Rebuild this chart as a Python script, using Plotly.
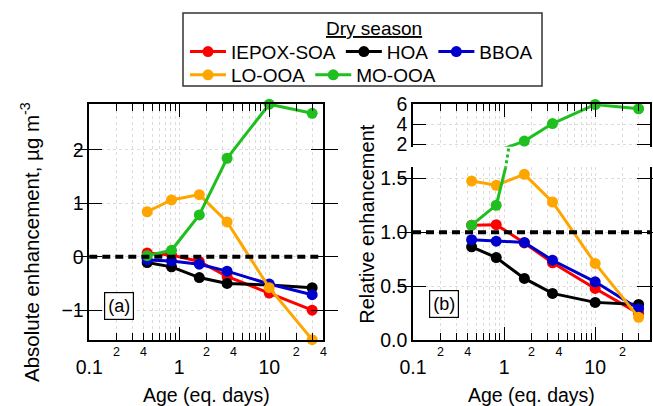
import math
import plotly.graph_objects as go

# ---------------- data ----------------
age_days = [0.44, 0.82, 1.67, 3.4, 10, 30]

series_names = ["IEPOX-SOA", "HOA", "BBOA", "LO-OOA", "MO-OOA"]
series_colors = ["#ff0000", "#000000", "#0000cc", "#ffa500", "#1fbf1f"]

# (a) absolute enhancement, ug m-3
abs_iepox = [0.07, 0.03, -0.09, -0.37, -0.68, -1.0]
abs_hoa = [-0.11, -0.19, -0.39, -0.50, -0.53, -0.58]
abs_bboa = [-0.06, -0.08, -0.14, -0.27, -0.51, -0.71]
abs_loooa = [0.84, 1.06, 1.16, 0.65, -0.58, -1.55]
abs_moooa = [0.02, 0.12, 0.78, 1.84, 2.85, 2.68]

# (b) relative enhancement
rel_iepox = [1.065, 1.07, 0.90, 0.716, 0.478, 0.247]
rel_hoa = [0.864, 0.765, 0.571, 0.432, 0.349, 0.33]
rel_bboa = [0.93, 0.917, 0.905, 0.74, 0.54, 0.29]
rel_loooa = [1.475, 1.435, 1.537, 1.28, 0.71, 0.21]
rel_moooa = [1.065, 1.25, 2.3, 4.07, 6.0, 5.57]

abs_reference = 0
rel_reference = 1.0

minor_label_vals = [0.2, 0.4, 2, 4, 20, 40]
minor_label_text = ["2", "4", "2", "4", "2", "4"]
abs_y_ticks = [-1, 0, 1, 2]
rel_low_ticks = [0.0, 0.5, 1.0, 1.5]
rel_high_ticks = [2, 4, 6]

# ---------------- layout constants ----------------
W, H = 653, 406
FONT = "Liberation Sans, Arial, sans-serif"
X_RANGE = [-1, math.log10(40)]
LEFT_DOM = [89.3 / W, 323.4 / W]
RIGHT_DOM = [413.0 / W, 650.0 / W]
MAIN_Y_DOM = [1 - 340 / H, 1 - 104 / H]
LOW_Y_DOM = [1 - 340 / H, 1 - 167.3 / H]
GAP_Y_DOM = [1 - 167.3 / H, 1 - 146.7 / H]
HIGH_Y_DOM = [1 - 146.7 / H, 1 - 104.3 / H]
ABS_RANGE = [-1.557, 2.854]
LOW_RANGE = [0, 1.602]
HIGH_RANGE = [1.727, 6.02]
GAP_RANGE = [LOW_RANGE[1], HIGH_RANGE[0]]

GRID = "#dcdcdc"

fig = go.Figure()

abs_series = [abs_iepox, abs_hoa, abs_bboa, abs_loooa, abs_moooa]
rel_series = [rel_iepox, rel_hoa, rel_bboa, rel_loooa, rel_moooa]

for i, (name, col, yv) in enumerate(zip(series_names, series_colors, abs_series)):
    fig.add_trace(go.Scatter(
        x=age_days, y=yv, name=name, mode="lines+markers",
        line=dict(color=col, width=3), marker=dict(color=col, size=11),
        xaxis="x", yaxis="y", cliponaxis=False,
        legend="legend" if i < 3 else "legend2",
    ))

for name, col, yv in zip(series_names, series_colors, rel_series):
    fig.add_trace(go.Scatter(
        x=age_days, y=yv, name=name, mode="lines+markers", showlegend=False,
        line=dict(color=col, width=3), marker=dict(color=col, size=11),
        xaxis="x2", yaxis="y2", cliponaxis=True,
    ))

# MO-OOA on the upper (broken) part of the relative axis
fig.add_trace(go.Scatter(
    x=age_days, y=rel_moooa, mode="lines+markers", showlegend=False,
    line=dict(color=series_colors[4], width=3),
    marker=dict(color=series_colors[4], size=11,
                opacity=[1 if v >= HIGH_RANGE[0] else 0 for v in rel_moooa]),
    xaxis="x4", yaxis="y4", cliponaxis=False,
))
# dotted connection across the axis break
fig.add_trace(go.Scatter(
    x=age_days, y=rel_moooa, mode="lines", showlegend=False,
    line=dict(color=series_colors[4], width=3, dash="dot"),
    xaxis="x5", yaxis="y5",
))
# empty traces so the minor-label axes own a subplot
for xa, ya in (("x3", "y"), ("x6", "y2")):
    fig.add_trace(go.Scatter(x=[], y=[], mode="markers", showlegend=False,
                             xaxis=xa, yaxis=ya, hoverinfo="skip"))

tickfont = dict(family=FONT, size=19.5, color="black")


def xaxis_common(dom, anchor, **kw):
    d = dict(
        domain=dom, anchor=anchor, type="log", range=X_RANGE,
        tickmode="linear", tick0=0, dtick=1,
        ticks="inside", ticklen=13, tickwidth=1.3, tickcolor="black",
        showline=True, linecolor="black", linewidth=1.5,
        showgrid=True, gridcolor=GRID, griddash="dot", gridwidth=1,
        zeroline=False, tickfont=tickfont, ticklabelstandoff=9,
        minor=dict(dtick="D1", ticks="inside", ticklen=7, tickwidth=1.3,
                   tickcolor="black", showgrid=True, gridcolor=GRID, griddash="dot"),
    )
    d.update(kw)
    return d


def yaxis_common(dom, anchor, rng, vals, **kw):
    d = dict(
        domain=dom, anchor=anchor, range=rng, tickmode="array", tickvals=vals,
        ticks="inside", ticklen=13, tickwidth=1.3, tickcolor="black",
        showline=True, linecolor="black", linewidth=1.5, mirror="allticks",
        showgrid=True, gridcolor=GRID, griddash="dot", gridwidth=1,
        zeroline=False, tickfont=tickfont,
    )
    d.update(kw)
    return d


def minor_label_axis(dom, over, anchor):
    return dict(
        domain=dom, overlaying=over, anchor=anchor, type="log", range=X_RANGE,
        tickmode="array", tickvals=minor_label_vals, ticktext=minor_label_text, ticks="",
        showgrid=False, showline=False, zeroline=False, side="bottom",
        tickfont=dict(family=FONT, size=12.5, color="black"), ticklabelstandoff=2,
    )


legend_common = dict(orientation="h", xanchor="left", yanchor="middle",
                     bgcolor="rgba(0,0,0,0)", borderwidth=0, itemwidth=36,
                     font=dict(family=FONT, size=19, color="black"), traceorder="normal")

fig.update_layout(
    width=W, height=H, margin=dict(l=0, r=0, t=0, b=0, pad=0, autoexpand=False),
    paper_bgcolor="white", plot_bgcolor="white",
    font=dict(family=FONT, color="black"),
    xaxis=xaxis_common(LEFT_DOM, "y", mirror="allticks"),
    yaxis=yaxis_common(MAIN_Y_DOM, "x", ABS_RANGE, abs_y_ticks),
    xaxis3=minor_label_axis(LEFT_DOM, "x", "y"),
    xaxis2=xaxis_common(RIGHT_DOM, "y2", mirror=False),
    yaxis2=yaxis_common(LOW_Y_DOM, "x2", LOW_RANGE, rel_low_ticks, tickformat=".1f"),
    xaxis6=minor_label_axis(RIGHT_DOM, "x2", "y2"),
    xaxis4=xaxis_common(RIGHT_DOM, "y4", side="top", showticklabels=False, mirror=False),
    yaxis4=yaxis_common(HIGH_Y_DOM, "x4", HIGH_RANGE, rel_high_ticks),
    xaxis5=dict(domain=RIGHT_DOM, anchor="y5", type="log", range=X_RANGE, visible=False),
    yaxis5=dict(domain=GAP_Y_DOM, anchor="x5", range=GAP_RANGE, visible=False),
    legend=dict(x=185 / W, y=1 - 51.7 / H, **legend_common),
    legend2=dict(x=185 / W, y=1 - 75 / H, **legend_common),
)

# reference (no-change) lines
fig.add_shape(type="line", xref="x domain", x0=0, x1=1, yref="y", y0=abs_reference, y1=abs_reference,
              line=dict(color="black", width=4, dash="8px,5px"), layer="above")
fig.add_shape(type="line", xref="x2 domain", x0=0, x1=1, yref="y2", y0=rel_reference, y1=rel_reference,
              line=dict(color="black", width=4, dash="8px,5px"), layer="above")

# legend frame
fig.add_shape(type="rect", xref="paper", yref="paper", x0=183 / W, x1=542 / W,
              y0=1 - 86 / H, y1=1 - 13 / H, line=dict(color="#333333", width=1.5))

ann_font = dict(family=FONT, size=19.5, color="black")
center = dict(xanchor="center", yanchor="middle", showarrow=False)
fig.add_annotation(text="<u>Dry season</u>", xref="paper", yref="paper", x=374 / W, y=1 - 29 / H,
                   font=dict(family=FONT, size=19, color="black"), **center)
fig.add_annotation(text="Age (eq. days)", xref="paper", yref="paper",
                   x=sum(LEFT_DOM) / 2, y=1 - 394.5 / H, font=ann_font, **center)
fig.add_annotation(text="Age (eq. days)", xref="paper", yref="paper",
                   x=sum(RIGHT_DOM) / 2, y=1 - 395 / H, font=ann_font, **center)
fig.add_annotation(text="Absolute enhancement, µg m<sup>-3</sup>", xref="paper", yref="paper",
                   x=30 / W, y=1 - 242 / H, textangle=-90,
                   font=dict(family=FONT, size=20.5, color="black"), **center)
fig.add_annotation(text="Relative enhancement", xref="paper", yref="paper",
                   x=366.7 / W, y=1 - 224 / H, textangle=-90,
                   font=dict(family=FONT, size=20, color="black"), **center)
fig.add_annotation(text="(a)", xref="x domain", yref="y domain", x=0.129, y=0.146,
                   bordercolor="black", borderwidth=1.2, borderpad=3,
                   bgcolor="white", font=dict(family=FONT, size=18, color="black"), **center)
fig.add_annotation(text="(b)", xref="x2 domain", yref="y2 domain", x=0.131, y=0.2085,
                   bordercolor="black", borderwidth=1.2, borderpad=3,
                   bgcolor="white", font=dict(family=FONT, size=18, color="black"), **center)

fig.write_html("out.html", config={"displayModeBar": False},
               post_script="document.body.style.margin='0';document.body.style.padding='0';")
